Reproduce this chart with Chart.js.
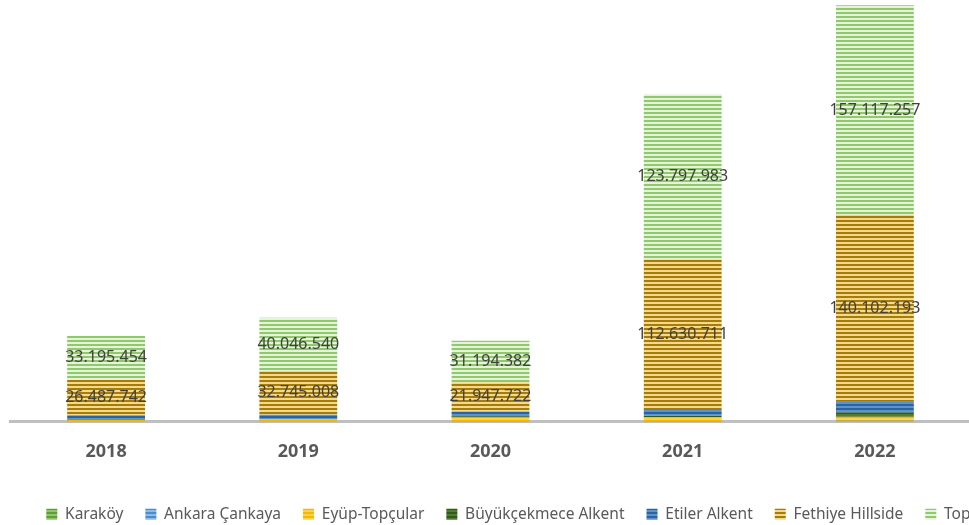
<!DOCTYPE html>
<html lang="tr">
<head>
<meta charset="UTF-8">
<title>Projeler</title>
<script src="https://cdn.jsdelivr.net/npm/chart.js"></script>
<style>
  html, body { margin: 0; padding: 0; background: #fff; overflow: hidden; }
  #wrap { width: 1034px; height: 532px; }
</style>
</head>
<body>
<div id="wrap"><canvas id="chart"></canvas></div>
<script>
const years = ['2018', '2019', '2020', '2021', '2022'];
const karakoy = [100000, 100000, 150000, 150000, 200000];
const ankara = [100000, 100000, 150000, 150000, 400000];
const eyup = [1000000, 1300000, 2700000, 2800000, 3000000];
const buyukcekmece = [500000, 400000, 1000000, 1200000, 3200000];
const etiler = [3000000, 3200000, 3500000, 4800000, 8200000];
const fethiye = [26487742, 32745008, 21947722, 112630711, 140102193];
const toplam = [33195454, 40046540, 31194382, 123797983, 157117257];

// çizgili dolgu
function stripes(dark, light) {
  const c = document.createElement('canvas');
  c.width = 4; c.height = 4;
  const g = c.getContext('2d');
  g.fillStyle = light; g.fillRect(0, 0, 4, 4);
  g.fillStyle = dark; g.fillRect(0, 0, 4, 2);
  return g.createPattern(c, 'repeat');
}

const fmt = v => v.toLocaleString('de-DE');

const labelPlugin = {
  id: 'segLabels',
  afterDatasetsDraw(chart) {
    const ctx = chart.ctx;
    ctx.save();
    ctx.font = '16px "Noto Sans"';
    ctx.fillStyle = '#404040';
    ctx.textAlign = 'center';
    ctx.textBaseline = 'middle';
    [5, 6].forEach(i => {
      const meta = chart.getDatasetMeta(i);
      meta.data.forEach((bar, j) => {
        const v = chart.data.datasets[i].data[j];
        ctx.fillText(fmt(v), bar.x, (bar.y + bar.base) / 2);
      });
    });
    ctx.restore();
  }
};

const ctx = document.getElementById('chart').getContext('2d');
new Chart(ctx, {
  type: 'bar',
  data: {
    labels: years,
    datasets: [
      { label: 'Karaköy', data: karakoy, backgroundColor: stripes('#5E9E3A', '#8CC866') },
      { label: 'Ankara Çankaya', data: ankara, backgroundColor: stripes('#4A8CD0', '#8BBBE8') },
      { label: 'Eyüp-Topçular', data: eyup, backgroundColor: stripes('#F5B800', '#FFD24A') },
      { label: 'Büyükçekmece Alkent', data: buyukcekmece, backgroundColor: stripes('#2F5A1C', '#4F7D32') },
      { label: 'Etiler Alkent', data: etiler, backgroundColor: stripes('#2A64A0', '#5B93CC') },
      { label: 'Fethiye Hillside', data: fethiye, backgroundColor: stripes('#A67C08', '#F5D98A') },
      { label: 'Toplam', data: toplam, backgroundColor: stripes('#8FC96A', '#E5F3DB') }
    ]
  },
  options: {
    responsive: true,
    maintainAspectRatio: false,
    animation: false,
    layout: { padding: { left: 10, right: 0, top: 5, bottom: 0 } },
    datasets: { bar: { categoryPercentage: 0.405, barPercentage: 1 } },
    scales: {
      x: {
        stacked: true,
        grid: { display: false },
        border: { display: true, color: '#BFBFBF', width: 3 },
        ticks: { color: '#595959', font: { family: 'Noto Sans', size: 18, weight: 'bold' }, padding: 12 },
        afterFit: s => { s.height = 63; }
      },
      y: {
        stacked: true,
        display: false,
        min: 0,
        max: 312500000
      },
      y2: {
        position: 'right',
        display: true,
        grid: { display: false },
        border: { display: false },
        ticks: { display: false },
        afterFit: s => { s.width = 63; }
      }
    },
    plugins: {
      legend: {
        position: 'bottom',
        labels: {
          color: '#595959',
          font: { family: 'Noto Sans', size: 15.5 },
          boxWidth: 11,
          boxHeight: 11,
          padding: 22
        }
      },
      tooltip: { enabled: false }
    }
  },
  plugins: [labelPlugin]
});
</script>
</body>
</html>
